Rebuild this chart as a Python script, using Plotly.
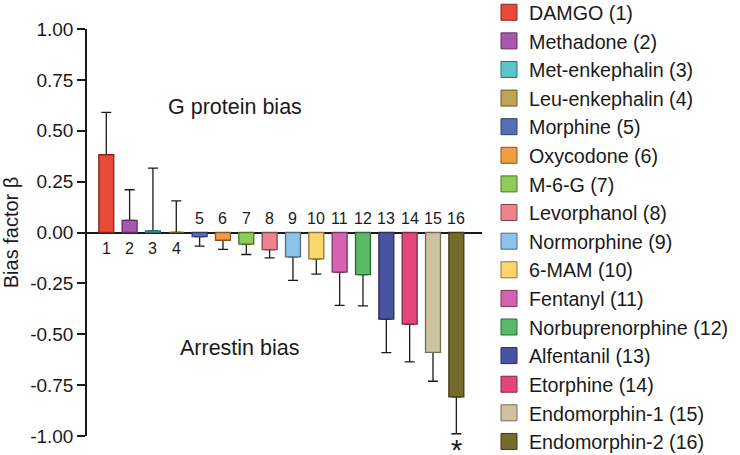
import plotly.graph_objects as go

# ---- data ----
names = ["DAMGO", "Methadone", "Met-enkephalin", "Leu-enkephalin", "Morphine",
         "Oxycodone", "M-6-G", "Levorphanol", "Normorphine", "6-MAM", "Fentanyl",
         "Norbuprenorphine", "Alfentanil", "Etorphine", "Endomorphin-1", "Endomorphin-2"]
ids = list(range(1, 17))
bias = [0.382, 0.06, 0.008, 0.0, -0.02, -0.038, -0.057, -0.084, -0.12, -0.13,
        -0.195, -0.207, -0.426, -0.45, -0.589, -0.808]
sem = [0.208, 0.15, 0.308, 0.155, 0.047, 0.045, 0.051, 0.041, 0.115, 0.075,
       0.163, 0.154, 0.164, 0.186, 0.142, 0.181]
colors = ["#E84B3A", "#A858AE", "#5CC5C9", "#BDA552", "#5570B9", "#F39C3F",
          "#8FCB57", "#EF828A", "#8EC2EA", "#FBD66A", "#D762AE", "#5AB967",
          "#4A52A2", "#E3467B", "#CFC39F", "#756B2A"]
ytick_vals = [1.0, 0.75, 0.5, 0.25, 0.0, -0.25, -0.5, -0.75, -1.0]
ytick_text = ["1.00", "0.75", "0.50", "0.25", "0.00", "-0.25", "-0.50", "-0.75", "-1.00"]
significant = [16]

FONT = "Liberation Sans, Arial, sans-serif"
INK = "#1a1a1a"


def darker(hex_color, f=0.55):
    h = hex_color.lstrip("#")
    r, g, b = (int(h[i:i + 2], 16) for i in (0, 2, 4))
    return "rgb(%d,%d,%d)" % (r * f, g * f, b * f)


fig = go.Figure()

# one-sided error bars (drawn first, under the bars)
fig.add_trace(go.Bar(
    x=ids, y=bias, width=0.64,
    marker=dict(color="rgba(0,0,0,0)", line=dict(width=0)),
    error_y=dict(type="data", symmetric=False,
                 array=[e if v >= 0 else 0 for v, e in zip(bias, sem)],
                 arrayminus=[e if v < 0 else 0 for v, e in zip(bias, sem)],
                 color=INK, thickness=1.3, width=5),
    showlegend=False, hoverinfo="skip"))

for k, (i, n, v, c) in enumerate(zip(ids, names, bias, colors)):
    leg = "legend" if k < 8 else "legend2"
    fig.add_trace(go.Bar(
        x=[i], y=[v], width=0.64, name=f"{n} ({i})", legendgroup=n,
        marker=dict(color=c, line=dict(color=darker(c), width=1.3)),
        showlegend=False))
    fig.add_trace(go.Scatter(
        x=[None], y=[None], mode="markers", name=f"{n} ({i})", legendgroup=n,
        legend=leg,
        marker=dict(symbol="square", size=16, color=c,
                    line=dict(color=darker(c), width=1)),
        showlegend=True))

annotations = []
for i, v in zip(ids, bias):
    annotations.append(dict(
        x=i, y=0, xref="x", yref="y", text=str(i), showarrow=False,
        yshift=(-16 if v >= 0 else 14),
        font=dict(family=FONT, size=16, color=INK)))
for i in significant:
    annotations.append(dict(
        x=i, y=bias[i - 1] - sem[i - 1], xref="x", yref="y", text="*",
        showarrow=False, yanchor="top", yshift=1.5,
        font=dict(family=FONT, size=29, color=INK)))
annotations.append(dict(x=6.52, y=0.616, xref="x", yref="y", text="G protein bias",
                        showarrow=False, font=dict(family=FONT, size=21.5, color=INK)))
annotations.append(dict(x=6.73, y=-0.569, xref="x", yref="y", text="Arrestin bias",
                        showarrow=False, font=dict(family=FONT, size=21.5, color=INK)))

legend_style = dict(xanchor="left", yanchor="middle",
                    font=dict(family=FONT, size=19.7, color=INK),
                    tracegroupgap=0, borderwidth=0, bgcolor="rgba(0,0,0,0)",
                    itemsizing="trace")

fig.update_layout(
    width=740, height=455,
    margin=dict(l=87, r=258, t=29, b=19, autoexpand=False),
    paper_bgcolor="white", plot_bgcolor="white",
    barmode="overlay",
    font=dict(family=FONT, color=INK),
    xaxis=dict(range=[0.174, 17.10], visible=False),
    yaxis=dict(range=[-1, 1], tickvals=ytick_vals, ticktext=ytick_text,
               ticks="outside", ticklen=8, tickwidth=1.5, tickcolor=INK,
               showline=True, linecolor=INK, linewidth=1.5,
               showgrid=False, zeroline=True, zerolinecolor=INK,
               zerolinewidth=1.5,
               tickfont=dict(family=FONT, size=19, color=INK),
               title=dict(text="Bias factor β", standoff=8,
                          font=dict(family=FONT, size=20, color=INK))),
    legend=dict(x=1.0177, y=0.795, **legend_style),
    legend2=dict(x=1.0177, y=0.2325, **legend_style),
    annotations=annotations,
)

fig.write_html("out.html", config={"displayModeBar": False},
               post_script="document.body.style.margin='0';")
